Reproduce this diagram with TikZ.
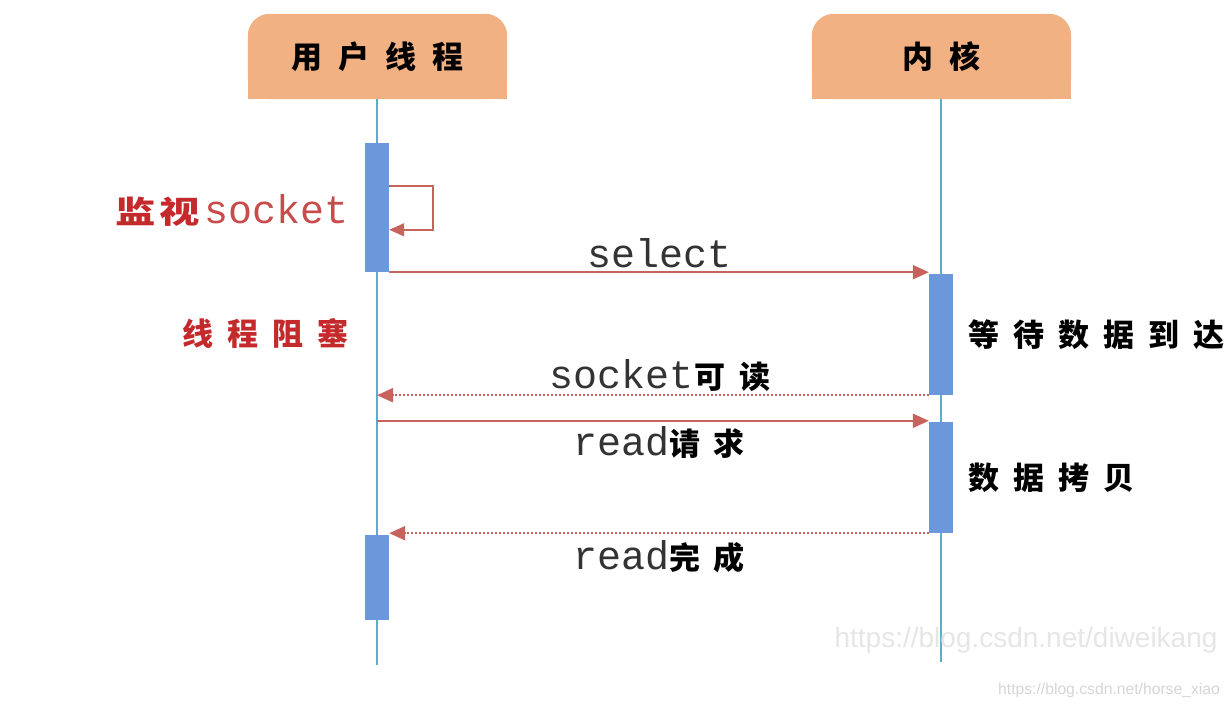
\documentclass[tikz,border=0pt]{standalone}
\usepackage{fontspec}
\setmainfont{Liberation Sans}
\setsansfont{Liberation Sans}
\setmonofont{Liberation Mono}
\newfontfamily\cjkfont{Noto Sans CJK SC}
\usetikzlibrary{arrows.meta,calc,backgrounds}
\definecolor{hdrfill}{HTML}{F2B183}
\definecolor{barfill}{HTML}{6A98DA}
\definecolor{lifeclr}{HTML}{5AAFC8}
\definecolor{msgclr}{HTML}{C8625D}
\definecolor{noteRed}{HTML}{C42A2C}
\definecolor{noteRedLight}{HTML}{C84C4C}
\definecolor{monoclr}{HTML}{333333}
\definecolor{wmA}{HTML}{E6E6E6}
\definecolor{wmB}{HTML}{D6D6D6}
\newcommand{\zh}[1]{{\cjkfont\bfseries #1}}
\newcommand{\cg}{\hspace{14pt}}
\newcommand{\hg}{\hspace{16pt}}
\newcommand{\mono}[1]{{\ttfamily\fontsize{40}{40}\selectfont #1}}

\begin{document}
\begin{tikzpicture}[x=1pt,y=-1pt,
  hdr/.style={minimum width=259pt, minimum height=85pt, inner sep=0pt,
    font=\fontsize{31}{31}\selectfont},
  lifeline/.style={draw=lifeclr, line width=2pt},
  actbar/.style={fill=barfill, minimum width=24pt, inner sep=0pt},
  msg/.style={draw=msgclr, line width=2pt, -{Triangle[length=16pt,width=14pt]}},
  reply/.style={msg, dash pattern=on 2pt off 2pt},
  lbl/.style={inner sep=0pt, font=\fontsize{31}{31}\selectfont},
  wm/.style={inner sep=0pt}
]
\useasboundingbox (0,0) rectangle (1230,708);

% participant headers
\node[hdr] (uHead) at (377.5,56.5) {\zh{用\hg 户\hg 线\hg 程}};
\node[hdr] (kHead) at (941.5,56.5) {\zh{内\hg 核}};
\begin{pgfonlayer}{background}
  \fill[white] (0,0) rectangle (1230,708);
  \foreach \h in {uHead,kHead} {
    \fill[hdrfill, rounded corners=22pt] (\h.south west) rectangle (\h.north east);
    \fill[hdrfill] (\h.south west) rectangle (\h.east);
  }
\end{pgfonlayer}

% lifelines
\coordinate (uEnd) at (377,665);
\coordinate (kEnd) at (941,662);
\draw[lifeline] (uHead.south -| uEnd) -- (uEnd);
\draw[lifeline] (kHead.south -| kEnd) -- (kEnd);

% activation bars
\node[actbar, minimum height=129pt] (uBarA) at (377,207.5) {};
\node[actbar, minimum height=85pt]  (uBarB) at (377,577.5) {};
\node[actbar, minimum height=121pt] (kBarA) at (941,334.5) {};
\node[actbar, minimum height=111pt] (kBarB) at (941,477.5) {};

% self call
\draw[draw=msgclr, line width=1.5pt, -{Triangle[length=15pt,width=13pt]}]
  ($(uBarA.north east)+(0,43)$) -- ++(44,0) -- ++(0,44) -- ($(uBarA.north east)+(0,87)$);

% messages
\draw[msg] (uBarA.south east) -- (uBarA.south east -| kBarA.west);
\draw[reply] (kBarA.south west) -- (kBarA.south west -| uEnd);
\draw[msg] (kBarB.north west -| uEnd) ++(0,-1) -- ($(kBarB.north west)+(0,-1)$);
\draw[reply] (kBarB.south west) -- (kBarB.south west -| uBarB.east);

% message labels
\node[lbl] (tSelect) at (660,253) {\textcolor{monoclr}{\mono{select}}};
\node[lbl] (tReadable) at (660,376) {\textcolor{monoclr}{\mono{socket}}\zh{可\cg 读}};
\node[lbl] (tReadReq) at (659,443) {\textcolor{monoclr}{\mono{read}}\zh{请\cg 求}};
\node[lbl] (tReadDone) at (659,557) {\textcolor{monoclr}{\mono{read}}\zh{完\cg 成}};

% side notes
\node[lbl, anchor=east] (tWatch) at (349,210)
  {\textcolor{noteRed}{\scalebox{1.3}[1]{\zh{监\hspace{3pt}视}}}\hspace{5pt}\textcolor{noteRedLight}{\mono{socket}}};
\node[lbl, anchor=east, text=noteRed] (tBlock) at (349,333) {\zh{线\cg 程\cg 阻\cg 塞}};
\node[lbl, anchor=west] (tWait) at (968,335) {\zh{等\cg 待\cg 数\cg 据\cg 到\cg 达}};
\node[lbl, anchor=west] (tCopy) at (968,478) {\zh{数\cg 据\cg 拷\cg 贝}};

% credits
\node[wm, text=wmA, font=\fontsize{28}{28}\selectfont\sffamily] (wmOne) at (1026,640) {https://blog.csdn.net/diweikang};
\node[wm, text=wmB, font=\fontsize{15.7}{16}\selectfont\sffamily] (wmTwo) at (1109,690) {https://blog.csdn.net/horse\_xiao};
\end{tikzpicture}
\end{document}
